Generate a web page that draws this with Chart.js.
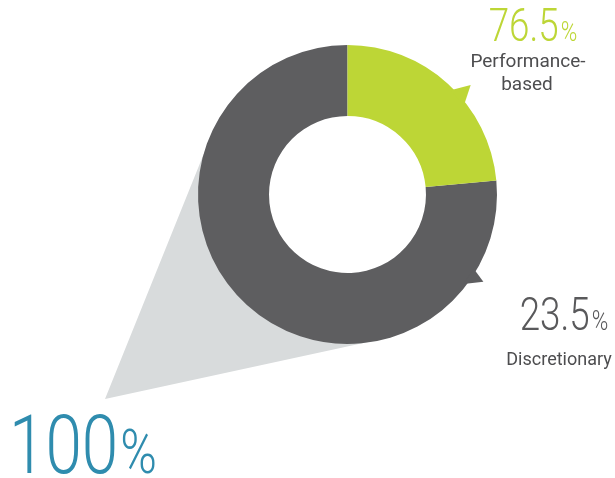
<!DOCTYPE html>
<html>
<head>
<meta charset="utf-8">
<script src="https://cdn.jsdelivr.net/npm/chart.js@4.4.1/dist/chart.umd.min.js"></script>
<style>
  html, body { margin: 0; padding: 0; background: #fff; overflow: hidden; }
  #wrap { width: 615px; height: 478px; position: relative; }
</style>
</head>
<body>
<div id="wrap"><canvas id="c" width="615" height="478"></canvas></div>
<script>
// Pay mix: share of variable pay by type
const categories = ['Performance-based', 'Discretionary'];
const shares = [76.5, 23.5];
const totalShare = 100;
const labelLines = [['Performance-', 'based'], ['Discretionary']];

const GREEN = '#bdd636';
const DARK = '#5e5e60';
const CONE = '#d8dbdc';
const BLUE = '#2f8cae';
const TEXT = '#4d4d4f';

const DEG = Math.PI / 180;

// Draws a number followed by a smaller "%" sign, horizontally condensed
function numberWithPct(ctx, numText, x, baseline, bigPx, pctPx, color, align) {
  const sx = 0.8;
  ctx.save();
  ctx.fillStyle = color;
  ctx.textBaseline = 'alphabetic';
  ctx.textAlign = 'left';
  ctx.font = `300 ${bigPx}px Roboto`;
  const w1 = ctx.measureText(numText).width * sx;
  ctx.font = `300 ${pctPx}px Roboto`;
  const w2 = ctx.measureText('%').width * sx;
  const gap = 2;
  const total = w1 + gap + w2;
  let left = x;
  if (align === 'center') left = x - total / 2;
  else if (align === 'right') left = x - total;
  ctx.font = `300 ${bigPx}px Roboto`;
  ctx.save(); ctx.translate(left, baseline); ctx.scale(sx, 1); ctx.fillText(numText, 0, 0); ctx.restore();
  ctx.font = `300 ${pctPx}px Roboto`;
  ctx.save(); ctx.translate(left + w1 + gap, baseline); ctx.scale(sx, 1); ctx.fillText('%', 0, 0); ctx.restore();
  ctx.restore();
}

function pointer(ctx, cx, cy, R, a1, aTip, rTip, a2, color) {
  ctx.save();
  ctx.fillStyle = color;
  ctx.beginPath();
  ctx.moveTo(cx + (R - 3) * Math.cos(a1 * DEG), cy + (R - 3) * Math.sin(a1 * DEG));
  ctx.lineTo(cx + rTip * R * Math.cos(aTip * DEG), cy + rTip * R * Math.sin(aTip * DEG));
  ctx.lineTo(cx + (R - 3) * Math.cos(a2 * DEG), cy + (R - 3) * Math.sin(a2 * DEG));
  ctx.closePath();
  ctx.fill();
  ctx.restore();
}

const decor = {
  id: 'decor',
  beforeDatasetsDraw(chart) {
    // light grey cone from the "100%" corner, tangent to the ring
    const arc = chart.getDatasetMeta(0).data[0];
    const { x, y, outerRadius: R } = arc.getProps(['x', 'y', 'outerRadius'], true);
    const ctx = chart.ctx;
    const ax = x - 1.622 * R, ay = y + 1.368 * R;
    const dx = ax - x, dy = ay - y, d = Math.hypot(dx, dy);
    const dir = Math.atan2(dy, dx), off = Math.acos(R / d);
    ctx.save();
    ctx.fillStyle = CONE;
    ctx.beginPath();
    ctx.moveTo(ax, ay);
    ctx.arc(x, y, R - 1, dir + off, dir - off, true);
    ctx.closePath();
    ctx.fill();
    ctx.restore();
  },
  afterDatasetsDraw(chart) {
    const arc = chart.getDatasetMeta(0).data[0];
    const { x, y, outerRadius: R } = arc.getProps(['x', 'y', 'outerRadius'], true);
    const ctx = chart.ctx;
    pointer(ctx, x, y, R, -45.3, -41.6, 1.102, -37.4, GREEN);
    pointer(ctx, x, y, R, 30.5, 32.7, 1.08, 37.6, DARK);
  },
  afterDraw(chart) {
    const ctx = chart.ctx;
    // upper-right label
    numberWithPct(ctx, String(shares[0]), 533, 41, 46, 28, GREEN, 'center');
    ctx.save();
    ctx.fillStyle = TEXT;
    ctx.font = '400 19px Roboto';
    ctx.textAlign = 'center';
    ctx.textBaseline = 'alphabetic';
    ctx.fillText(labelLines[0][0], 528, 67);
    ctx.fillText(labelLines[0][1], 527, 90);
    ctx.restore();
    // lower-right label
    numberWithPct(ctx, String(shares[1]), 564, 330, 46, 28, '#59595b', 'center');
    ctx.save();
    ctx.fillStyle = TEXT;
    ctx.font = '400 18px Roboto';
    ctx.textAlign = 'center';
    ctx.textBaseline = 'alphabetic';
    ctx.fillText(labelLines[1][0], 559, 365);
    ctx.restore();
    // total
    numberWithPct(ctx, String(totalShare), 9, 473, 82, 62, BLUE, 'left');
  }
};

new Chart(document.getElementById('c'), {
  type: 'doughnut',
  data: {
    labels: categories,
    datasets: [{
      data: shares,
      backgroundColor: [DARK, GREEN],
      borderWidth: 0,
      hoverOffset: 0
    }]
  },
  options: {
    responsive: false,
    animation: false,
    events: [],
    cutout: '52.5%',
    rotation: shares[1] / totalShare * 360,
    layout: { padding: { left: 198, right: 118, top: 45, bottom: 134 } },
    plugins: { legend: { display: false }, tooltip: { enabled: false } }
  },
  plugins: [decor]
});
</script>
</body>
</html>
